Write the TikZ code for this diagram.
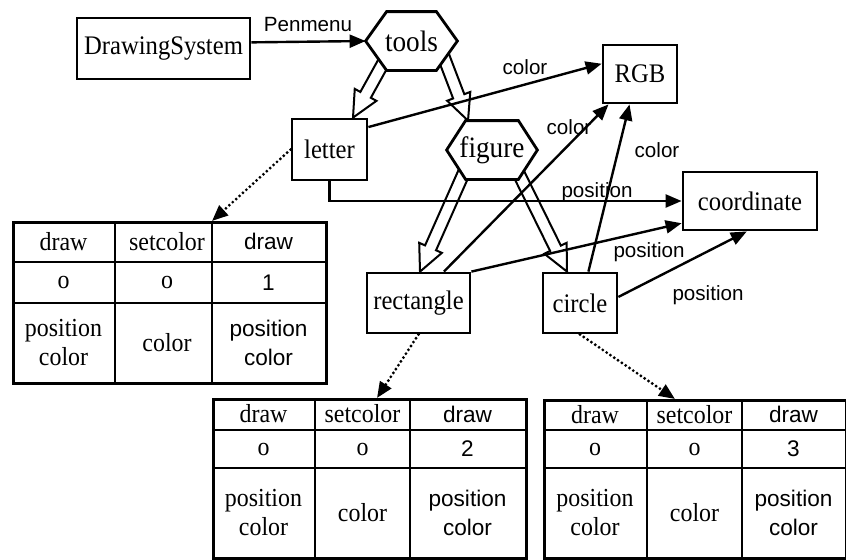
\documentclass[tikz,border=0pt]{standalone}
\usepackage{fontspec}
\setmainfont{Liberation Serif}[FakeStretch=0.92]
\newfontfamily\lblfont{Liberation Sans}
\usetikzlibrary{arrows.meta,calc}
\pgfdeclarelayer{back}
\pgfdeclarelayer{mid}
\pgfsetlayers{back,mid,main}

% hexagonal outline around a (borderless) node: #1 node name, #2 corner cut
\newcommand\hexoutline[2]{%
  \draw[boxline, fill=white] (#1.west) -- ([xshift=#2]#1.north west)
    -- ([xshift=-#2]#1.north east) -- (#1.east)
    -- ([xshift=-#2]#1.south east) -- ([xshift=#2]#1.south west) -- cycle;}

\tikzset{
  boxline/.style={line width=1.4pt, line join=miter},
  box/.style={draw, boxline, fill=white, inner sep=0pt, font=\fontsize{13.4}{15}\selectfont},
  hexnode/.style={inner sep=0pt, minimum height=29pt, font=\fontsize{14.8}{17}\selectfont},
  link/.style={line width=1.2pt, -{Triangle[length=8pt,width=6.5pt]}},
  dotlink/.style={line width=1.6pt, line cap=round, dash pattern=on 0pt off 2.3pt,
                  -{Triangle[length=8pt,width=6.5pt]}},
  lbl/.style={font=\lblfont\fontsize{10.3}{12}\selectfont, inner sep=0pt},
  % block arrow with an open outline
  hollow/.style={draw, fill=white, line width=1pt, line join=miter, to path={
    coordinate (ha) at (\tikztostart)
    coordinate (hb) at (\tikztotarget)
    coordinate (hc) at ($(hb)!13pt!(ha)$)
    ($(ha)!3pt!90:(hb)$) -- ($(hc)!3pt!-90:(ha)$) -- ($(hc)!6.2pt!-90:(ha)$)
    -- (hb) -- ($(hc)!6.2pt!90:(ha)$) -- ($(hc)!3pt!90:(ha)$)
    -- ($(ha)!3pt!-90:(hb)$) -- cycle}},
  tframe/.style={draw, line width=1.5pt, inner sep=0pt, anchor=north west},
  trule/.style={line width=0.6pt},
  tsep/.style={line width=1.1pt},
  tser/.style={font=\fontsize{13}{14.5}\selectfont, align=center, inner sep=0pt},
  tsan/.style={font=\lblfont\fontsize{11.3}{14.5}\selectfont, align=center, inner sep=0pt},
}

\begin{document}
\begin{tikzpicture}[x=0.5pt, y=-0.5pt]
\useasboundingbox (0,0) rectangle (846,559);

% ---- class nodes
\node[box, minimum width=86.5pt, minimum height=30.5pt] (ds) at (163.5,48.5) {DrawingSystem};
\node[hexnode, minimum width=45.5pt] (tools) at (411.5,41) {tools};
\node[box, minimum width=37.5pt, minimum height=30.5pt] (letter) at (329.5,149.5) {letter};
\node[hexnode, minimum width=45pt] (figure) at (492,150) {figure};
\node[box, minimum width=37pt, minimum height=29pt] (rgb) at (640,74) {RGB};
\node[box, minimum width=67pt, minimum height=29pt] (coord) at (750,201) {coordinate};
\node[box, minimum width=51.5pt, minimum height=30pt] (rect) at (418.5,303) {rectangle};
\node[box, minimum width=37pt, minimum height=30pt] (circ) at (580,303) {circle};

% ---- operation tables
\node[tframe, minimum width=156.5pt, minimum height=80.5pt] (t1) at (12,221) {};
\draw[trule] (115,221) -- (115,382);
\draw[tsep] (212,221) -- (212,382);
\draw[trule] (12,262) -- (325,262) (12,303) -- (325,303);
\node[tser] (t1a) at (63.5,241.5) {draw};
\node[tser] (t1b) at (167,241.5) {setcolor};
\node[tsan] (t1c) at (268.5,241.5) {draw};
\node[tser] (t1d) at (63.5,282.5) {o};
\node[tser] (t1e) at (167,282.5) {o};
\node[tsan] (t1f) at (268.5,282.5) {1};
\node[tser] (t1g) at (63.5,342.5) {position\\color};
\node[tser] (t1h) at (167,342.5) {color};
\node[tsan] (t1i) at (268.5,342.5) {position\\color};

\node[tframe, minimum width=156.5pt, minimum height=79.5pt] (t2) at (212,398) {};
\draw[trule] (315,398) -- (315,557);
\draw[tsep] (410,398) -- (410,557);
\draw[trule] (212,430) -- (525,430) (212,468) -- (525,468);
\node[tser] (t2a) at (263.5,414) {draw};
\node[tser] (t2b) at (362.5,414) {setcolor};
\node[tsan] (t2c) at (467.5,414) {draw};
\node[tser] (t2d) at (263.5,449) {o};
\node[tser] (t2e) at (362.5,449) {o};
\node[tsan] (t2f) at (467.5,449) {2};
\node[tser] (t2g) at (263.5,512.5) {position\\color};
\node[tser] (t2h) at (362.5,512.5) {color};
\node[tsan] (t2i) at (467.5,512.5) {position\\color};

\node[tframe, minimum width=151pt, minimum height=79pt] (t3) at (543,399) {};
\draw[trule] (647,399) -- (647,557);
\draw[tsep] (742,399) -- (742,557);
\draw[trule] (543,430) -- (845,430) (543,468) -- (845,468);
\node[tser] (t3a) at (595,414.5) {draw};
\node[tser] (t3b) at (694.5,414.5) {setcolor};
\node[tsan] (t3c) at (793.5,414.5) {draw};
\node[tser] (t3d) at (595,449) {o};
\node[tser] (t3e) at (694.5,449) {o};
\node[tsan] (t3f) at (793.5,449) {3};
\node[tser] (t3g) at (595,512.5) {position\\color};
\node[tser] (t3h) at (694.5,512.5) {color};
\node[tsan] (t3i) at (793.5,512.5) {position\\color};

% ---- inheritance (block arrows)
\begin{pgfonlayer}{back}
\draw[hollow] ([shift={(-10.25pt,-4pt)}]tools.center) to ([xshift=11.75pt]letter.north);
\draw[hollow] ([shift={(12pt,2.75pt)}]tools.center) to ([xshift=-12pt]figure.north);
\draw[hollow] ([shift={(-11pt,-4.5pt)}]figure.center) to ([xshift=0.75pt]rect.north);
\draw[hollow] ([shift={(9.5pt,-4pt)}]figure.center) to ([xshift=-6.5pt]circ.north);
\end{pgfonlayer}

% ---- associations
\begin{pgfonlayer}{mid}
\draw[link] (ds.4) -- (tools.west);
\draw[link] (letter.30) -- (rgb.165);
\draw[link] (rect.51) -- (rgb.224);
\draw[link] (circ.75) -- (rgb.251);
\draw[link] (letter.south) |- (coord.west);
\draw[link] (rect.north east) -- (coord.198);
\draw[link] (circ.9) -- (coord.264);
\draw[dotlink] (letter.west) -- ([xshift=100pt]t1.north west);
\draw[dotlink] (rect.south) -- ([xshift=82.5pt]t2.north west);
\draw[dotlink] (circ.south) -- ([xshift=66pt]t3.north west);
\hexoutline{tools}{10.5pt}
\hexoutline{figure}{9.5pt}
\end{pgfonlayer}

% ---- association labels
\node[lbl] (lpen) at (308,25) {Penmenu};
\node[lbl] (lc1) at (525,67) {color};
\node[lbl] (lc2) at (569,127) {color};
\node[lbl] (lc3) at (657,150) {color};
\node[lbl] (lp1) at (597,192) {position};
\node[lbl] (lp2) at (649,252) {position};
\node[lbl] (lp3) at (708,295) {position};
\end{tikzpicture}
\end{document}
